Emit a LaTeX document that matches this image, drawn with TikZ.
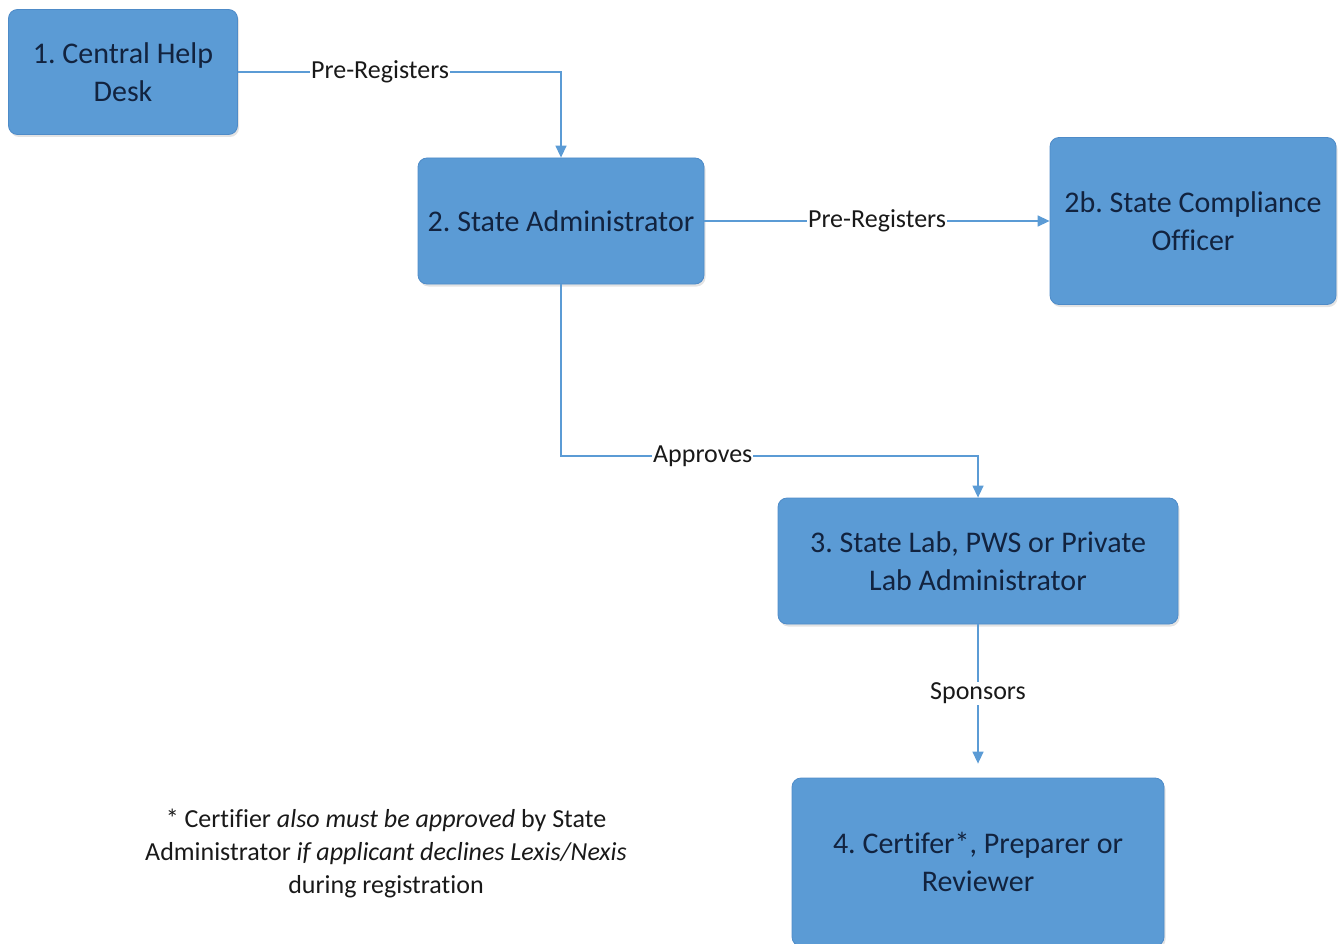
\documentclass[tikz,border=0pt]{standalone}
\usepackage{fontspec}
\setmainfont{Carlito}[Ligatures={NoCommon}]
\usepackage{tikz}
\usetikzlibrary{arrows.meta,shadows,positioning}
\definecolor{boxblue}{HTML}{5B9BD5}
\definecolor{boxedge}{HTML}{4E8BC8}
\definecolor{boxtext}{HTML}{12233F}
\definecolor{linkblue}{HTML}{5B9BD5}
\frenchspacing

\begin{document}
\begin{tikzpicture}[x=1pt,y=-1pt,
	role/.style={rectangle,rounded corners=9pt,draw=boxedge,line width=0.8pt,fill=boxblue,
		text=boxtext,align=center,font=\fontsize{30}{38}\selectfont,
		drop shadow={opacity=0.22,shadow xshift=1.5pt,shadow yshift=-2.5pt}},
	link/.style={draw=linkblue,line width=1.4pt,-{Triangle[length=12pt,width=11pt]}},
	lbl/.style={fill=white,inner sep=1pt,text=black!90,font=\fontsize{26}{31}\selectfont}]
	 \useasboundingbox (0,0) rectangle (1343,944);

	 \node at (123,72) [role,minimum width=229pt,minimum height=125pt] (helpdesk) {1. Central Help\\Desk};
	 \node at (561,221) [role,minimum width=286pt,minimum height=126pt] (stadmin) {2. State Administrator};
	 \node at (1193,221) [role,minimum width=286pt,minimum height=167pt] (compliance) {2b. State Compliance\\Officer};
	 \node at (978,561) [role,minimum width=400pt,minimum height=126pt] (labadmin) {3. State Lab, PWS or Private\\Lab Administrator};
	 \node at (978,862) [role,minimum width=372pt,minimum height=168pt] (certifier) {4. Certifer*, Preparer or\\Reviewer};

	 \coordinate (apbend) at (978,456);

	 \draw[link] (helpdesk.east) -| node[lbl,pos=0.22] {Pre-Registers} (stadmin.north);
	 \draw[link] (stadmin.east) -- node[lbl,pos=0.5] {Pre-Registers} (compliance.west);
	 \draw[link] (stadmin.south) |- node[lbl,pos=0.67] {Approves} (apbend) -- (labadmin.north);
	 \draw[link,shorten >=14pt] (labadmin.south) -- node[lbl,pos=0.45] {Sponsors} (certifier.north);

	 \node at (386,853) [align=center,text=black!90,font=\fontsize{26}{33}\selectfont] (note)
	 	{* Certifier \textit{also must be approved} by State\\
	 	 Administrator \textit{if applicant declines Lexis/Nexis}\\
	 	 during registration};
\end{tikzpicture}
\end{document}
